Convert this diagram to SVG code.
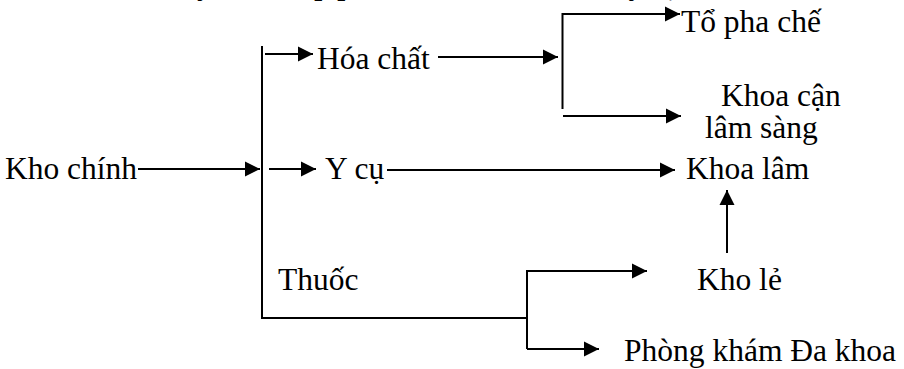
<svg xmlns="http://www.w3.org/2000/svg" width="904" height="369" viewBox="0 0 904 369">
  <style>
    text { font-family: 'Liberation Serif', 'Times New Roman', serif; fill: #000; }
    .lbl { font-size: 31.5px; }
    .title { font-size: 28.5px; font-weight: bold; }
    .ln { stroke: #000; stroke-width: 2; fill: none; }
    .arr { marker-end: url(#head); }
  </style>
  <defs>
    <marker id="head" markerUnits="userSpaceOnUse" markerWidth="16" markerHeight="16" viewBox="0 0 16 16" refX="15" refY="8" orient="auto">
      <path d="M0,0.5 L15,8 L0,15.5 z" fill="#000"/>
    </marker>
  </defs>
  <rect width="904" height="369" fill="#fff"/>

  <!-- heading, mostly above the top edge -->
  <text class="title" x="159" y="-5">Quy trình cấp phát thuốc, hóa chất và y cụ</text>

  <g id="kho-chinh"><text class="lbl" x="5" y="179">Kho chính</text></g>
  <g id="hoa-chat"><text class="lbl" x="317" y="69">Hóa chất</text></g>
  <g id="y-cu"><text class="lbl" x="325" y="179">Y cụ</text></g>
  <g id="thuoc"><text class="lbl" x="278" y="290">Thuốc</text></g>
  <g id="to-pha-che"><text class="lbl" x="681" y="32">Tổ pha chế</text></g>
  <g id="khoa-can-lam-sang">
    <text class="lbl" x="721" y="106">Khoa cận</text>
    <text class="lbl" x="705" y="138">lâm sàng</text>
  </g>
  <g id="khoa-lam"><text class="lbl" x="686" y="179">Khoa lâm</text></g>
  <g id="kho-le"><text class="lbl" x="697" y="290">Kho lẻ</text></g>
  <g id="phong-kham"><text class="lbl" x="624" y="361">Phòng khám Đa khoa</text></g>

  <g id="connectors">
    <!-- main trunk -->
    <line class="ln arr" x1="138" y1="169" x2="260" y2="169"/>
    <polyline class="ln" points="262,46 262,318 527,318"/>
    <line class="ln arr" x1="265" y1="54" x2="313" y2="54"/>
    <line class="ln arr" x1="269" y1="169" x2="316" y2="169"/>

    <!-- chemicals branch -->
    <line class="ln arr" x1="438" y1="57" x2="558" y2="57"/>
    <polyline class="ln arr" points="562.5,109 562.5,14 680,14"/>
    <line class="ln arr" x1="563" y1="116" x2="681" y2="116"/>

    <!-- supplies to clinical ward -->
    <line class="ln arr" x1="387" y1="170" x2="675" y2="170"/>
    <line class="ln arr" x1="727" y1="253" x2="727" y2="190"/>

    <!-- medicine branch -->
    <polyline class="ln arr" points="527,349 527,271 647,271"/>
    <line class="ln arr" x1="527" y1="349" x2="599" y2="349"/>
  </g>
</svg>
